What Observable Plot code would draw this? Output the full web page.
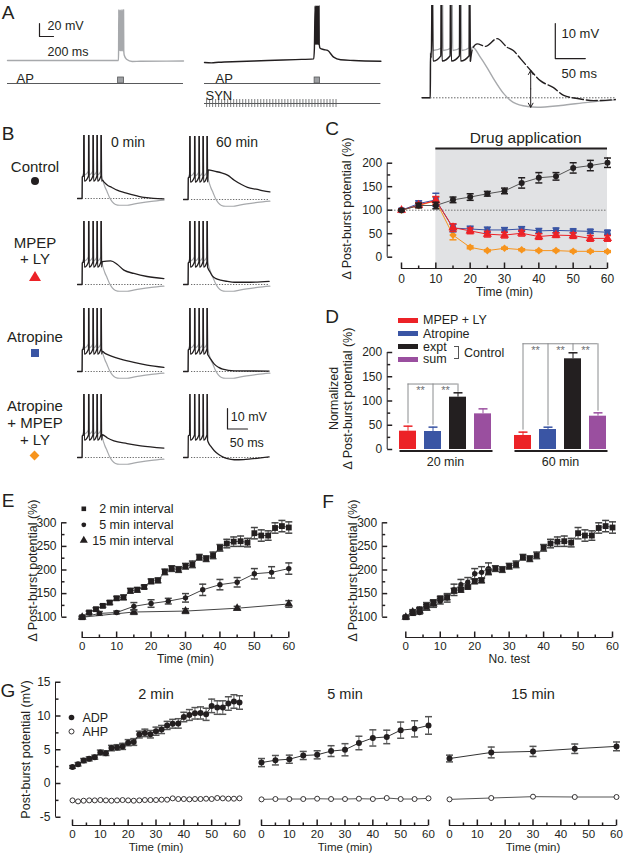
<!DOCTYPE html>
<html><head><meta charset="utf-8">
<script src="https://cdn.jsdelivr.net/npm/d3@7"></script>
<script src="https://cdn.jsdelivr.net/npm/@observablehq/plot@0.6"></script>
<style>
body{margin:0;background:#fff;}
#fig{position:relative;width:623px;height:853px;overflow:hidden;background:#fff;font-family:"Liberation Sans",Arial,sans-serif;color:#231f20;}
#fig svg{overflow:visible;background:transparent;}
.lab{position:absolute;white-space:nowrap;line-height:1;}
</style></head><body><div id="fig"></div>
<script>
// ---------------- DATA ----------------
// Panel A (ms, mV relative to rest)
const a1Spikes = [1590, 1607, 1624, 1641, 1658];
const a1Tail = [[1668, 8], [1700, 2], [1780, -1.5], [1900, -1.2], [2514, -0.8]];
const a2Pre = [[0, 0], [100, -0.6], [200, 0.4], [500, 1.5], [900, 3], [1300, 4.5], [1560, 5.5]];
const a2Spikes = [1580, 1594, 1608, 1622, 1636];
const a2Tail = [[1652, 22], [1702, 20], [1759, 18.5], [1845, 8.2], [1945, 4.2], [2131, 3.1], [2520, 2]];
const apBlock1 = [1580, 1665], apBlock2 = [1573, 1650];
const synStart = 30, synEnd = 1900, synPeriod = 43;
const a3Spikes = [2.8, 17.8, 33.3, 48.8, 65];
const a3GraySpikes = [2.8, 19.5, 35.5, 50.5, 65];
const a3BlackTail = [[77.8, 15.4], [91.7, 14.7], [111, 16.9], [128, 14.4], [138, 13.5], [150, 11.2], [167, 7.8], [183, 4.9], [205, 2.9], [222, 0.7], [245, -0.2], [272, -0.8], [308, -0.5]];
const a3GrayTail = [[70, 14.5], [83, 11.6], [94, 8.7], [105, 5.5], [122, 1.2], [138, -1.3], [162, -2.5], [178, -2.7], [217, -2.2], [262, -1.3], [308, -0.6]];
const a3ArrowT = 167, a3ArrowTop = 7.8, a3ArrowBottom = -2.7;

// Panel B (ms, mV)
const bRowLabels = [["Control"], ["MPEP", "+ LY"], ["Atropine"], ["Atropine", "+ MPEP", "+ LY"]];
const bColLabels = ["0 min", "60 min"];
const bSpikes = [16, 28, 39, 49, 59];
const bGrayTail = [[62, 9.8], [68, 6], [74, 3.3], [80, 0.5], [87, -1.6], [95, -2.9], [105, -3.3], [124, -3.3], [140, -2.7], [158, -2.1], [185, -1.4], [216, -0.8]];
const bControl0 = [[62, 9], [66, 8.1], [75, 6.5], [85, 5.5], [99, 4.1], [120, 2.8], [141, 1.6], [166, 0.5], [190, 0.1], [216, -0.2]];
const bControl60 = [[62, 14.5], [77, 13.8], [95, 13], [110, 11.9], [127, 9.4], [145, 7.3], [160, 5.9], [185, 4.9], [200, 4.2], [216, 3.7]];
const bMpep0 = [[62, 11.2], [83, 11.5], [99, 9.9], [116, 7], [141, 5.4], [174, 3.9], [216, 2.9]];
const bMpep60 = [[62, 7.6], [66, 6.2], [72, 4.2], [80, 3], [93, 2.1], [110, 1.5], [127, 1.1], [168, 1.1], [214, 1.5]];
const bAtr0 = [[62, 9.8], [70, 8.7], [83, 7.6], [108, 6], [141, 4.4], [174, 3.1], [216, 2]];
const bAtr60 = [[62, 7.8], [68, 6], [77, 3.6], [88, 2], [98, 1.1], [127, 0.3], [214, 0.2]];
const bAmp0 = [[62, 11.1], [75, 9.5], [91, 8.1], [124, 6.8], [158, 5.7], [216, 4.6]];
const bAmp60 = [[62, 7.4], [68, 5.5], [77, 3.3], [88, 1.5], [98, 0.3], [110, -0.6], [127, -1.1], [150, -1], [168, -0.7], [214, 0.3]];

// Panel C (% of baseline)
const cTime = [0, 5, 10, 15, 20, 25, 30, 35, 40, 45, 50, 55, 60];
const cDrug = [10, 60];
const cControl = [100, 110, 110, 122, 128, 135, 141, 158, 169, 172, 190, 195, 201];
const cControlErr = [2, 5, 7, 6, 7, 5, 6, 11, 11, 8, 11, 11, 10];
const cAtropine = [100, 114, 122, 62, 60, 58, 58, 60, 56, 57, 56, 55, 53];
const cAtropineErr = [2, 6, 14, 8, 6, 6, 5, 5, 5, 5, 4, 4, 4];
const cMpepLy = [100, 111, 121, 63, 56, 49, 47, 51, 44, 47, 46, 40, 40];
const cMpepLyErr = [3, 5, 8, 8, 6, 6, 6, 6, 6, 5, 6, 6, 6];
const cAtrMpepLy = [100, 110, 120, 47, 21, 14, 19, 16, 14, 14, 12.5, 12.5, 12];
const cAtrMpepLyErr = [2, 4, 8, 10, 3, 2, 2, 2, 2, 2, 2, 2, 2];

// Panel D (normalized %)
const dSeries = ["MPEP + LY", "Atropine", "expt", "sum"];
const d20 = [37.8, 37.1, 107.9, 73.5];
const d20Err = [10.3, 9, 9, 10.3];
const d60 = [28.9, 41.2, 187, 68.7];
const d60Err = [6.9, 4.8, 12.4, 6.9];
const dBracket20 = [["MPEP + LY", 53], ["Atropine", 50], ["expt", 118]];
const dBracket20Top = 135;
const dBracket60 = [["MPEP + LY", 40], ["Atropine", 49], ["expt", 203], ["sum", 79]];
const dBracket60Top = 218;

// Panel E / F (%)
const e2Time = [0, 2, 4, 6, 8, 10, 12, 14, 16, 18, 20, 22, 24, 26, 28, 30, 32, 34, 36, 38, 40, 42, 44, 46, 48, 50, 52, 54, 56, 58, 60];
const e2Val = [100, 110, 117, 124, 131, 140, 142, 156, 158, 164, 176, 178, 196, 203, 201, 208, 212, 227, 224, 231, 247, 256, 260, 261, 258, 278, 273, 273, 289, 293, 290];
const e2Err = [2, 3, 3, 3, 4, 4, 5, 5, 5, 4, 5, 5, 6, 6, 6, 6, 7, 6, 6, 7, 7, 9, 10, 11, 9, 12, 12, 10, 11, 12, 12];
const e5Time = [0, 5, 10, 15, 20, 25, 30, 35, 40, 45, 50, 55, 60];
const e5Val = [100, 108, 110, 123, 129, 134, 141, 158, 169, 174, 192, 195, 203];
const e5Err = [2, 4, 3, 8, 8, 6, 9, 12, 11, 10, 11, 12, 12];
const e15Time = [0, 15, 30, 45, 60];
const e15Val = [100, 111, 113, 119, 128];
const e15Err = [2, 5, 5, 4, 7];
const f2Test = [0, 2, 4, 6, 8, 10, 12, 14, 16, 18, 20, 22, 24, 26, 28, 30, 32, 34, 36, 38, 40, 42, 44, 46, 48, 50, 52, 54, 56, 58, 60];
const f5Test = [0, 2, 4, 6, 8, 10, 12, 14, 16, 18, 20, 22, 24];
const f15Test = [0, 2, 4, 6, 8];

// Panel G (mV)
const g2Time = e2Time;
const g2Adp = [2.45, 2.85, 3.4, 3.65, 3.9, 4.6, 4.5, 5.25, 5.35, 5.5, 6.05, 6.15, 7.25, 7.5, 7.3, 7.75, 8.0, 8.6, 8.85, 8.9, 9.85, 10.15, 10.4, 10.45, 10.25, 11.5, 11.25, 11.25, 11.85, 12.15, 12.0];
const g2AdpErr = [0.2, 0.25, 0.3, 0.3, 0.3, 0.35, 0.35, 0.4, 0.4, 0.45, 0.45, 0.5, 0.5, 0.55, 0.55, 0.6, 0.6, 0.6, 0.65, 0.7, 0.7, 0.8, 0.85, 0.9, 0.9, 1.0, 1.0, 1.0, 1.0, 1.0, 1.0];
const g2Ahp = [-2.5, -2.65, -2.55, -2.5, -2.5, -2.45, -2.5, -2.55, -2.5, -2.45, -2.5, -2.55, -2.5, -2.45, -2.45, -2.45, -2.4, -2.4, -2.2, -2.3, -2.3, -2.35, -2.3, -2.3, -2.25, -2.3, -2.15, -2.2, -2.25, -2.25, -2.2];
const g5Time = e5Time;
const g5Adp = [3.1, 3.45, 3.6, 4.15, 4.25, 4.8, 5.0, 6.0, 6.75, 6.9, 7.9, 8.1, 8.6];
const g5AdpErr = [0.6, 0.7, 0.6, 0.6, 0.6, 0.8, 0.9, 1.0, 1.2, 1.0, 1.2, 1.2, 1.3];
const g5Ahp = [-2.35, -2.3, -2.3, -2.3, -2.25, -2.3, -2.3, -2.25, -2.3, -2.15, -2.3, -2.3, -2.2];
const g15Time = e15Time;
const g15Adp = [3.7, 4.6, 4.75, 5.15, 5.5];
const g15AdpErr = [0.5, 0.8, 0.75, 0.7, 0.65];
const g15Ahp = [-2.35, -2.15, -1.95, -2.0, -2.0];

// ---------------- STYLE / HELPERS ----------------
const INK = "#231f20", GRAY = "#a7a9ac", RED = "#ec2227", BLUE = "#3a55a4", ORANGE = "#f7941d", PURPLE = "#9a4f9f", SHADE = "#e1e2e4";
const dColors = [RED, BLUE, INK, PURPLE];
const FONT = "'Liberation Sans', Arial, sans-serif";
const fig = document.getElementById("fig");

const tickUp = {draw(c, s) { const l = Math.sqrt(s / Math.PI); c.moveTo(0, 0); c.lineTo(0, -l); }};
const tickRight = {draw(c, s) { const l = Math.sqrt(s / Math.PI); c.moveTo(0, 0); c.lineTo(l, 0); }};
const capH = {draw(c, s) { const l = Math.sqrt(s / Math.PI); c.moveTo(-l, 0); c.lineTo(l, 0); }};

function inv(r) { const [v1, p1, v2, p2] = r; return p => v1 + (p - p1) * (v2 - v1) / (p2 - p1); }
function put(el, left, top) { el.style.position = "absolute"; el.style.left = left + "px"; el.style.top = top + "px"; fig.appendChild(el); }
function panel(o) {
  const X = inv(o.xref), Y = inv(o.yref);
  const S = {X, Y, L: o.left, T: o.top};
  const svg = Plot.plot({
    width: o.right - o.left, height: o.bottom - o.top, margin: 0,
    x: {domain: [X(o.left), X(o.right)], axis: null},
    y: {domain: [Y(o.bottom), Y(o.top)], axis: null},
    style: {background: "transparent", fontFamily: FONT, overflow: "visible", color: INK},
    marks: o.marks(S)
  });
  put(svg, o.left, o.top);
}
function ptext(S, str, px, py, o = {}) {
  return Plot.text([str], {frameAnchor: "top-left", dx: px - S.L, dy: py - S.T, text: d => d, fill: INK, fontSize: 12, textAnchor: "middle", lineAnchor: "middle", ...o});
}
function pdot(S, px, py, o) {
  return Plot.dot([0], {frameAnchor: "top-left", dx: px - S.L, dy: py - S.T, ...o});
}
function yAxis(S, {px, lo, hi, major, minor = [], size = 12, dx = -5}) {
  const x = S.X(px);
  return [
    Plot.ruleX([x], {y1: lo, y2: hi, stroke: INK, strokeWidth: 1}),
    Plot.dot(major, {x: () => x, y: d => d, symbol: tickRight, r: 5, stroke: INK, fill: "none"}),
    Plot.dot(minor, {x: () => x, y: d => d, symbol: tickRight, r: 3, stroke: INK, fill: "none"}),
    Plot.text(major, {x: () => x, y: d => d, text: d => String(d), textAnchor: "end", lineAnchor: "middle", dx, fontSize: size, fill: INK})
  ];
}
function xAxis(S, {py, lo, hi, major, minor = [], size = 12, dy = 10, title, titleDy = 23, titleSize = 12}) {
  const y = S.Y(py);
  const m = [
    Plot.ruleY([y], {x1: lo, x2: hi, stroke: INK, strokeWidth: 1}),
    Plot.dot(major, {x: d => d, y: () => y, symbol: tickUp, r: 6, stroke: INK, fill: "none"}),
    Plot.dot(minor, {x: d => d, y: () => y, symbol: tickUp, r: 3, stroke: INK, fill: "none"}),
    Plot.text(major, {x: d => d, y: () => y, text: d => String(d), dy, lineAnchor: "middle", fontSize: size, fill: INK})
  ];
  if (title) m.push(Plot.text([title], {x: (lo + hi) / 2, y: () => y, text: d => d, dy: titleDy, lineAnchor: "middle", fontSize: titleSize, fill: INK}));
  return m;
}
function series(xs, ys, es, o) {
  const d = xs.map((x, i) => ({x, y: ys[i], e: es ? es[i] : 0}));
  const m = [];
  if (es) {
    m.push(Plot.ruleX(d, {x: "x", y1: q => q.y - q.e, y2: q => q.y + q.e, stroke: o.err, strokeWidth: 1}));
    m.push(Plot.dot(d, {x: "x", y: q => q.y + q.e, symbol: capH, r: o.cap || 3.5, stroke: o.err, fill: "none"}));
    m.push(Plot.dot(d, {x: "x", y: q => q.y - q.e, symbol: capH, r: o.cap || 3.5, stroke: o.err, fill: "none"}));
  }
  if (o.line) m.push(Plot.line(d, {x: "x", y: "y", stroke: o.line, strokeWidth: o.lw || 1}));
  m.push(Plot.dot(d, {x: "x", y: "y", symbol: o.symbol, r: o.r, fill: o.fill, stroke: o.stroke || "none", strokeWidth: o.sw || 1}));
  return m;
}
function burst(times, peak, trough, recover, fall) {
  const pts = [];
  times.forEach((t, i) => {
    pts.push([t, peak]);
    pts.push([t + fall, trough]);
    if (i < times.length - 1) pts.push([times[i + 1] - fall * 0.4, trough + recover]);
  });
  return pts;
}
function tline(pts, o) {
  return Plot.line(pts, {x: d => d[0], y: d => d[1], curve: "monotone-x", ...o});
}
function lab(text, x, y, o = {}) {
  const el = document.createElement("div");
  el.className = "lab";
  el.textContent = text;
  el.style.fontSize = (o.size || 12) + "px";
  if (o.font) el.style.fontFamily = o.font;
  if (o.color) el.style.color = o.color;
  const a = o.anchor || "middle";
  el.style.transform = a === "middle" ? "translate(-50%,-50%)" : a === "end" ? "translate(-100%,-50%)" : "translate(0,-50%)";
  put(el, x, y);
  return el;
}
function shape(kind, x, y, color) {
  const el = document.createElement("div");
  el.style.position = "absolute";
  if (kind === "circle") Object.assign(el.style, {width: "8px", height: "8px", borderRadius: "50%", background: color, left: (x - 4) + "px", top: (y - 4) + "px"});
  if (kind === "square") Object.assign(el.style, {width: "8px", height: "8px", background: color, left: (x - 4) + "px", top: (y - 4) + "px"});
  if (kind === "diamond") Object.assign(el.style, {width: "7px", height: "7px", background: color, left: (x - 3.5) + "px", top: (y - 3.5) + "px", transform: "rotate(45deg)"});
  if (kind === "triangle") Object.assign(el.style, {width: "0", height: "0", borderLeft: "6px solid transparent", borderRight: "6px solid transparent", borderBottom: "10px solid " + color, left: (x - 6) + "px", top: (y - 5) + "px"});
  fig.appendChild(el);
}
const LETTER = "'Liberation Sans', Arial, sans-serif";

// ---------------- PANEL A ----------------
lab("A", 8, 12, {size: 19, font: LETTER});
panel({left: 7, right: 183, top: 0, bottom: 70, xref: [0, 7, 200, 21], yref: [0, 60, 20, 47], marks: S => [
  tline([[0, 0], [1585, 0], [1587, 15], ...burst(a1Spikes, 78, 15, 3, 3), ...a1Tail], {stroke: GRAY, strokeWidth: 1.4}),
  Plot.line([[S.X(39), S.Y(23)], [S.X(39), S.Y(36)], [S.X(53), S.Y(36)]], {x: d => d[0], y: d => d[1], stroke: INK, strokeWidth: 1.2}),
  ptext(S, "20 mV", 47, 25, {textAnchor: "start", fontSize: 12.5}),
  ptext(S, "200 ms", 47, 51, {textAnchor: "start", fontSize: 12.5})
]});
panel({left: 7, right: 183, top: 70, bottom: 88, xref: [0, 7, 200, 21], yref: [0, 83, 1, 77], marks: S => [
  Plot.ruleY([0], {x1: 0, x2: 2514, stroke: "#58595b", strokeWidth: 1}),
  Plot.rect([apBlock1], {x1: d => d[0], x2: d => d[1], y1: 0, y2: 1, fill: "#9d9fa2", stroke: "#58595b", strokeWidth: 0.8}),
  ptext(S, "AP", 16, 78, {textAnchor: "start", fontSize: 13})
]});
panel({left: 204, right: 380, top: 0, bottom: 70, xref: [0, 204, 200, 218], yref: [0, 62, 20, 49], marks: S => [
  tline([...a2Pre, [1570, 22], ...burst(a2Spikes, 87, 28, 4, 3), ...a2Tail], {stroke: INK, strokeWidth: 1.4})
]});
panel({left: 204, right: 380, top: 70, bottom: 88, xref: [0, 204, 200, 218], yref: [0, 83, 1, 77], marks: S => [
  Plot.ruleY([0], {x1: 0, x2: 2520, stroke: "#58595b", strokeWidth: 1}),
  Plot.rect([apBlock2], {x1: d => d[0], x2: d => d[1], y1: 0, y2: 1, fill: "#9d9fa2", stroke: "#58595b", strokeWidth: 0.8}),
  ptext(S, "AP", 215, 78, {textAnchor: "start", fontSize: 13})
]});
panel({left: 204, right: 380, top: 88, bottom: 110, xref: [0, 204, 200, 218], yref: [0, 103, 1, 99], marks: S => [
  Plot.ruleY([0], {x1: 0, x2: 2520, stroke: "#58595b", strokeWidth: 1}),
  Plot.ruleX(d3.range(synStart, synEnd, synPeriod), {x: d => d, y1: -1, y2: 1, stroke: "#58595b", strokeWidth: 0.8}),
  ptext(S, "SYN", 205, 95, {textAnchor: "start", fontSize: 13})
]});
panel({left: 415, right: 620, top: 5, bottom: 110, xref: [0, 430, 50, 460], yref: [0, 97.3, 10, 62.3], marks: S => [
  Plot.ruleY([0], {x1: 0, x2: 308, stroke: "#555", strokeDasharray: "1.5,1.5", strokeWidth: 0.9}),
  tline([[-14, 0], [-0.3, 0], [0, 12.7], [1.5, 13.5], ...burst(a3GraySpikes, 40, 13.5, 0.8, 1.5), ...a3GrayTail], {stroke: GRAY, strokeWidth: 1.4, clip: true}),
  tline([[-14, 0], [-0.3, 0], [0, 12.7], [1.5, 11.5], ...burst(a3Spikes, 40, 10.5, 1.5, 1.5)], {stroke: INK, strokeWidth: 1.4, clip: true}),
  tline([[a3Spikes[4] + 1.5, 10.5], [70, 14], ...a3BlackTail], {stroke: INK, strokeWidth: 1.4, strokeDasharray: "11,3", clip: true}),
  Plot.arrow([0], {x1: a3ArrowT, x2: a3ArrowT, y1: (a3ArrowTop + a3ArrowBottom) / 2, y2: a3ArrowTop, stroke: INK, strokeWidth: 1, headLength: 7, bend: 0}),
  Plot.arrow([0], {x1: a3ArrowT, x2: a3ArrowT, y1: (a3ArrowTop + a3ArrowBottom) / 2, y2: a3ArrowBottom, stroke: INK, strokeWidth: 1, headLength: 7, bend: 0}),
  Plot.line([[208, 21.2], [208, 11.2], [258, 11.2]], {x: d => d[0], y: d => d[1], stroke: INK, strokeWidth: 1.2}),
  ptext(S, "10 mV", 561, 33, {textAnchor: "start", fontSize: 13}),
  ptext(S, "50 ms", 561, 73, {textAnchor: "start", fontSize: 13})
]});

// ---------------- PANEL B ----------------
lab("B", 8, 133, {size: 19, font: LETTER});
lab(bColLabels[0], 128, 142, {size: 14});
lab(bColLabels[1], 237, 142, {size: 14});
const bLabelY = [[165.5], [241.7, 258.3], [336], [405, 421.7, 439.3]];
const bMarkY = [180.7, 275.7, 353.3, 455];
bRowLabels.forEach((lines, r) => lines.forEach((t, k) => lab(t, 35, bLabelY[r][k], {size: 15})));
shape("circle", 34.5, bMarkY[0], INK);
shape("triangle", 34.5, bMarkY[1], RED);
shape("square", 34.5, bMarkY[2], BLUE);
shape("diamond", 34.5, bMarkY[3], ORANGE);
const bTails = [[bControl0, bControl60], [bMpep0, bMpep60], [bAtr0, bAtr60], [bAmp0, bAmp60]];
const bBase = [198.3, 283.7, 370.7, 456.7];
const bColX = [77, 182.7];
bTails.forEach((pair, r) => pair.forEach((tail, c) => {
  const x0 = bColX[c], b = bBase[r] + (r === 0 && c === 1 ? 1 : 0);
  panel({left: x0, right: x0 + 89, top: b - 63, bottom: b + 10, xref: [0, x0, 50, x0 + 20], yref: [0, b, 10, b - 20.5], marks: S => {
    const m = [
      Plot.ruleY([0], {x1: 20, x2: 216, stroke: "#444", strokeDasharray: "1.3,1.5", strokeWidth: 0.8})
    ];
    if (!(r === 3 && c === 1)) m.push(tline([[0, 0], [11.5, 0], [12, 10.5], [15.2, 12.5], ...burst(bSpikes, 45, 11.5, 2, 1.2), ...bGrayTail], {stroke: GRAY, strokeWidth: 1.2, clip: true}));
    m.push(tline([[0, 0], [11.5, 0], [12, 10.5], [15.2, 11], ...burst(bSpikes, 45, 8.5, 2.5, 1.2), ...tail], {stroke: INK, strokeWidth: 1.3, clip: true}));
    if (r === 3 && c === 1) {
      m.push(Plot.line([[110, 23.9], [110, 13.9], [160, 13.9]], {x: d => d[0], y: d => d[1], stroke: INK, strokeWidth: 1.2}));
      m.push(ptext(S, "10 mV", 230, 416, {textAnchor: "start", fontSize: 12.5}));
      m.push(ptext(S, "50 ms", 229, 442, {textAnchor: "start", fontSize: 12.5}));
    }
    return m;
  }});
}));

// ---------------- PANEL C ----------------
lab("C", 332, 128, {size: 19, font: LETTER});
panel({left: 330, right: 620, top: 120, bottom: 300, xref: [0, 401, 60, 607], yref: [0, 256.7, 200, 162.7], marks: S => {
  const yAx = S.Y(268), drugTop = S.Y(148);
  return [
    Plot.rect([cDrug], {x1: d => d[0], x2: d => d[1], y1: yAx, y2: drugTop, fill: SHADE}),
    Plot.ruleY([drugTop], {x1: cDrug[0], x2: cDrug[1], stroke: INK, strokeWidth: 2}),
    Plot.text(["Drug application"], {x: (cDrug[0] + cDrug[1]) / 2, y: drugTop, text: d => d, dx: 4, dy: -10, fontSize: 15.5, fill: INK, lineAnchor: "middle"}),
    Plot.ruleY([100], {x1: S.X(388), x2: 60, stroke: "#666", strokeDasharray: "1.5,1.5", strokeWidth: 0.9}),
    ...yAxis(S, {px: 386.7, lo: 0, hi: 200, major: [0, 50, 100, 150, 200], minor: [25, 75, 125, 175]}),
    ...xAxis(S, {py: 268, lo: 0, hi: 60, major: [0, 10, 20, 30, 40, 50, 60], minor: [5, 15, 25, 35, 45, 55], dy: 10.5, title: "Time (min)", titleDy: 24}),
    ptext(S, "Δ Post-burst potential (%)", 346, 208, {rotate: -90, fontSize: 12.5}),
    ...series(cTime, cAtrMpepLy, cAtrMpepLyErr, {err: ORANGE, line: ORANGE, symbol: "diamond2", r: 3.4, fill: ORANGE}),
    ...series(cTime, cAtropine, cAtropineErr, {err: BLUE, line: BLUE, symbol: "square", r: 3.3, fill: BLUE}),
    ...series(cTime, cMpepLy, cMpepLyErr, {err: RED, line: RED, symbol: "triangle", r: 3.4, fill: RED}),
    ...series(cTime, cControl, cControlErr, {err: INK, line: "#555", symbol: "circle", r: 3, fill: INK})
  ];
}});

// ---------------- PANEL D ----------------
lab("D", 332, 316, {size: 19, font: LETTER});
const D_YREF = [0, 449, 200, 352];
panel({left: 322, right: 392, top: 300, bottom: 470, xref: [0, 322, 1, 323], yref: D_YREF, marks: S => [
  ...yAxis(S, {px: 386.7, lo: 0, hi: 200, major: [0, 50, 100, 150, 200], minor: [25, 75, 125, 175]}),
  ptext(S, "Normalized", 333, 398, {rotate: -90, fontSize: 12.5}),
  ptext(S, "Δ Post-burst potential (%)", 347, 398, {rotate: -90, fontSize: 12.5})
]});
function dGroup(left, label, vals, errs, brackets, top, bracketInsetR, stars) {
  const Y = inv(D_YREF);
  const W = 108, step = 25;
  const data = dSeries.map((s, i) => ({s, v: vals[i], e: errs[i], c: dColors[i]}));
  const svg = Plot.plot({
    width: W, height: 170, margin: 0,
    x: {type: "band", domain: dSeries, padding: 0.32, axis: null},
    y: {domain: [Y(470), Y(300)], axis: null},
    style: {background: "transparent", fontFamily: FONT, overflow: "visible"},
    marks: [
      Plot.ruleX(brackets, {x: d => d[0], y1: d => d[1], y2: top, stroke: "#8a8c8e", strokeWidth: 1}),
      Plot.ruleY([top], {insetLeft: 16.5, insetRight: bracketInsetR, stroke: "#8a8c8e", strokeWidth: 1}),
      Plot.text(stars, {x: d => d[0], y: d => d[1], text: () => "**", dx: step / 2, fontSize: 11, fill: "#6d6e71", lineAnchor: "middle"}),
      Plot.ruleX(data, {x: "s", y1: "v", y2: d => d.v + d.e, stroke: d => d.c, strokeWidth: 1}),
      Plot.dot(data, {x: "s", y: d => d.v + d.e, symbol: capH, r: 4.5, stroke: d => d.c, fill: "none"}),
      Plot.barY(data, {x: "s", y: "v", fill: d => d.c}),
      Plot.ruleY([Y(450.5)], {insetLeft: 8.5, insetRight: 6.5, stroke: INK, strokeWidth: 2}),
      Plot.text([label], {frameAnchor: "top", dy: 161, text: d => d, fontSize: 12.5, fill: INK, lineAnchor: "middle"})
    ]
  });
  put(svg, left, 300);
}
dGroup(390.5, "20 min", d20, d20Err, dBracket20, dBracket20Top, 41.5, [["MPEP + LY", 121], ["Atropine", 121]]);
dGroup(506, "60 min", d60, d60Err, dBracket60, dBracket60Top, 16.5, [["MPEP + LY", 205], ["Atropine", 205], ["expt", 205]]);
// D legend
const dLegY = [320, 333.5, 346.5, 359];
dSeries.forEach((s, i) => {
  const sw = document.createElement("div");
  Object.assign(sw.style, {width: "20px", height: "5px", background: dColors[i]});
  put(sw, 398, dLegY[i] - 2.5);
  lab(s, 423, dLegY[i], {size: 12.5, anchor: "start"});
});
const br = document.createElement("div");
Object.assign(br.style, {width: "5px", height: "13px", border: "1px solid #555", borderLeft: "none", boxSizing: "border-box"});
put(br, 453.5, dLegY[2] - 0.5);
lab("Control", 464, (dLegY[2] + dLegY[3]) / 2, {size: 12.5, anchor: "start"});

// ---------------- PANEL E ----------------
lab("E", 8, 500, {size: 19, font: LETTER});
panel({left: 20, right: 300, top: 495, bottom: 665, xref: [0, 81.7, 60, 288.3], yref: [100, 616.7, 300, 522.3], marks: S => [
  ...yAxis(S, {px: 61, lo: 100, hi: 300, major: [100, 150, 200, 250, 300], minor: [125, 175, 225, 275]}),
  ...xAxis(S, {py: 637, lo: 0, hi: 60, major: [0, 10, 20, 30, 40, 50, 60], minor: [5, 15, 25, 35, 45, 55], dy: 8.5, size: 11.5, title: "Time (min)", titleDy: 22}),
  ptext(S, "Δ Post-burst potential (%)", 32, 570, {rotate: -90, fontSize: 12.5}),
  ...series(e15Time, e15Val, e15Err, {err: "#444", line: "#444", symbol: "triangle", r: 3.2, fill: INK, cap: 3.5}),
  ...series(e5Time, e5Val, e5Err, {err: "#444", line: "#444", symbol: "circle", r: 2.7, fill: INK, cap: 3.5}),
  ...series(e2Time, e2Val, e2Err, {err: "#444", line: "#444", symbol: "square", r: 3.3, fill: INK, cap: 3.5}),
  pdot(S, 83.3, 508.3, {symbol: "square", r: 2.6, fill: INK}),
  pdot(S, 83.3, 524.3, {symbol: "circle", r: 2.4, fill: INK}),
  pdot(S, 83.3, 540, {symbol: "triangle", r: 3, fill: INK}),
  ptext(S, "2 min interval", 173, 508.3, {textAnchor: "end", fontSize: 12.5}),
  ptext(S, "5 min interval", 173, 524.3, {textAnchor: "end", fontSize: 12.5}),
  ptext(S, "15 min interval", 173, 540, {textAnchor: "end", fontSize: 12.5})
]});

// ---------------- PANEL F ----------------
lab("F", 328, 501, {size: 19, font: LETTER});
panel({left: 320, right: 620, top: 495, bottom: 665, xref: [0, 405.3, 60, 612], yref: [100, 616.7, 300, 522.3], marks: S => [
  ...yAxis(S, {px: 381.7, lo: 100, hi: 300, major: [100, 150, 200, 250, 300], minor: [125, 175, 225, 275]}),
  ...xAxis(S, {py: 637, lo: 0, hi: 60, major: [0, 10, 20, 30, 40, 50, 60], minor: [5, 15, 25, 35, 45, 55], dy: 8.5, size: 11.5, title: "No. test", titleDy: 22}),
  ptext(S, "Δ Post-burst potential (%)", 352, 570, {rotate: -90, fontSize: 12.5}),
  ...series(f15Test, e15Val, e15Err, {err: "#444", line: "#666", symbol: "triangle", r: 3.2, fill: INK, cap: 3.5}),
  ...series(f5Test, e5Val, e5Err, {err: "#444", line: "#666", symbol: "circle", r: 2.7, fill: INK, cap: 3.5}),
  ...series(f2Test, e2Val, e2Err, {err: "#444", line: "#666", symbol: "square", r: 3.3, fill: INK, cap: 3.5})
]});

// ---------------- PANEL G ----------------
lab("G", 8, 690, {size: 19, font: LETTER});
const G_YREF = [0, 783, 10, 715.5];
const gX = [[0, 72, 60, 239], [0, 261, 60, 428], [0, 449, 60, 616]];
const gTitles = ["2 min", "5 min", "15 min"];
const gData = [[g2Time, g2Adp, g2AdpErr, g2Ahp], [g5Time, g5Adp, g5AdpErr, g5Ahp], [g15Time, g15Adp, g15AdpErr, g15Ahp]];
const gBounds = [[45, 245], [250, 435], [440, 622]];
gData.forEach(([t, adp, adpErr, ahp], k) => {
  panel({left: gBounds[k][0], right: gBounds[k][1], top: 678, bottom: 853, xref: gX[k], yref: G_YREF, marks: S => {
    const m = [];
    if (k === 0) {
      m.push(...yAxis(S, {px: 55, lo: -5, hi: 15, major: [-5, 0, 5, 10, 15], minor: [-2.5, 2.5, 7.5, 12.5]}));
      m.push(ptext(S, "Post-burst potential (mV)", 25, 749, {rotate: -90, fontSize: 12.5}));
      m.push(pdot(S, 71, 717, {symbol: "circle", r: 2.8, fill: INK}));
      m.push(pdot(S, 71, 731, {symbol: "circle", r: 2.5, fill: "white", stroke: INK, strokeWidth: 0.9}));
      m.push(ptext(S, "ADP", 82, 717, {textAnchor: "start", fontSize: 12.5}));
      m.push(ptext(S, "AHP", 82, 731, {textAnchor: "start", fontSize: 12.5}));
    }
    m.push(...xAxis(S, {py: 825, lo: 0, hi: 60, major: [0, 10, 20, 30, 40, 50, 60], minor: [5, 15, 25, 35, 45, 55], dy: 8.5, size: 11.5, title: "Time (min)", titleDy: 21.5, titleSize: 11.5}));
    m.push(Plot.text([gTitles[k]], {x: 30, y: S.Y(694), text: d => d, fontSize: 14.5, fill: INK, lineAnchor: "middle"}));
    m.push(...series(t, ahp, null, {line: "#555", symbol: "circle", r: 2.5, fill: "white", stroke: INK, sw: 0.9}));
    m.push(...series(t, adp, adpErr, {err: "#555", line: "#333", symbol: "circle", r: 3, fill: INK, cap: 3.5}));
    return m;
  }});
});
</script></body></html>
